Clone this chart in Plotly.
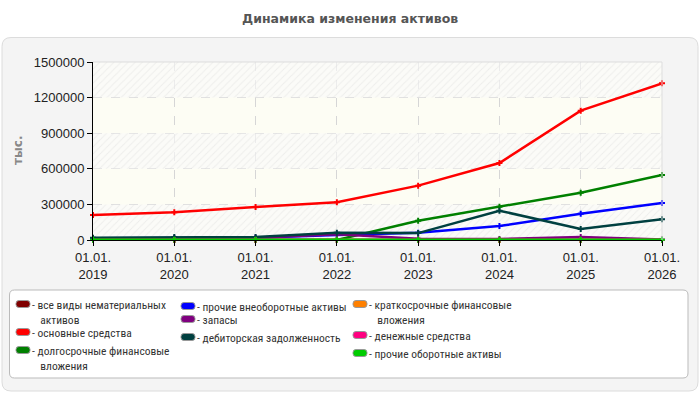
import plotly.graph_objects as go

# ---- data ----
years = [2019, 2020, 2021, 2022, 2023, 2024, 2025, 2026]
year_labels = ["01.01.<br>2019", "01.01.<br>2020", "01.01.<br>2021", "01.01.<br>2022",
               "01.01.<br>2023", "01.01.<br>2024", "01.01.<br>2025", "01.01.<br>2026"]

nematerialnye = [0, 0, 0, 0, 0, 0, 0, 0]
osnovnye = [210000, 233000, 278000, 318000, 458000, 649000, 1090000, 1320000]
dolgosrochnye = [0, 0, 0, 0, 163000, 281000, 399000, 548000]
prochie_vneob = [15000, 15000, 18000, 42000, 62000, 118000, 222000, 312000]
zapasy = [12000, 15000, 18000, 48000, 10000, 8000, 25000, 5000]
debitorskaya = [20000, 25000, 25000, 62000, 58000, 247000, 93000, 174000]
kratkosrochnye = [0, 0, 0, 0, 0, 0, 0, 0]
denezhnye = [1000, 1000, 1000, 1000, 1000, 1000, 1000, 1000]
prochie_obor = [3000, 3000, 3000, 3000, 3000, 3000, 3000, 3000]

series_names = [
    "все виды нематериальных<br>активов",
    "основные средства",
    "долгосрочные финансовые<br>вложения",
    "прочие внеоборотные активы",
    "запасы",
    "дебиторская задолженность",
    "краткосрочные финансовые<br>вложения",
    "денежные средства",
    "прочие оборотные активы",
]
series_values = [nematerialnye, osnovnye, dolgosrochnye, prochie_vneob, zapasy,
                 debitorskaya, kratkosrochnye, denezhnye, prochie_obor]
series_colors = ["#800000", "#ff0000", "#008000", "#0000ff", "#800080",
                 "#004040", "#ff8000", "#ff0080", "#00cc00"]

y_ticks = [0, 300000, 600000, 900000, 1200000, 1500000]

# ---- geometry (pixels) ----
W, H = 700, 400
PL, PR, PT, PB = 93, 662, 62, 240


def px(x):
    return (x - PL) / (PR - PL)


def py(y):
    return (PB - y) / (PB - PT)


def rrect(x0, y0, x1, y1, r):
    X0, X1 = px(x0), px(x1)
    Y0, Y1 = py(y0), py(y1)  # Y0 top, Y1 bottom
    rx = r / (PR - PL)
    ry = r / (PB - PT)
    return (f"M {X0+rx},{Y0} L {X1-rx},{Y0} Q {X1},{Y0} {X1},{Y0-ry} "
            f"L {X1},{Y1+ry} Q {X1},{Y1} {X1-rx},{Y1} L {X0+rx},{Y1} "
            f"Q {X0},{Y1} {X0},{Y1+ry} L {X0},{Y0-ry} Q {X0},{Y0} {X0+rx},{Y0} Z")


fig = go.Figure()

# hatched bands
ymax = y_ticks[-1]
for i in range(0, len(y_ticks) - 1, 2):
    lo, hi = y_ticks[i], y_ticks[i + 1]
    fig.add_trace(go.Scatter(
        x=[years[0], years[-1], years[-1], years[0], years[0]],
        y=[lo, lo, hi, hi, lo], mode="none", fill="toself",
        fillcolor="rgba(250,250,250,0.6)",
        fillpattern=dict(shape="/", fgcolor="#e0e0e0", bgcolor="rgba(250,250,250,0.6)",
                         size=5, solidity=0.2),
        hoverinfo="skip", showlegend=False))

for name, vals, col in zip(series_names, series_values, series_colors):
    fig.add_trace(go.Scatter(
        x=years, y=vals, mode="lines+markers", name=name.replace("<br>", " "),
        line=dict(color=col, width=2.5),
        marker=dict(symbol="cross", size=5, color=col),
        cliponaxis=False, showlegend=False))

shapes = []
# gray panel
shapes.append(dict(type="path", xref="paper", yref="paper", layer="below",
                   path=rrect(2, 37.5, 698, 391, 9),
                   fillcolor="#f4f4f4", line=dict(color="#dcdcdc", width=1)))
# plot background
shapes.append(dict(type="rect", xref="paper", yref="paper", layer="below",
                   x0=0, x1=1, y0=0, y1=1, fillcolor="#fdfdf4", line=dict(width=0)))
# top/right border
shapes.append(dict(type="line", xref="paper", yref="paper", x0=0, x1=1, y0=1, y1=1,
                   line=dict(color="#dddddd", width=1)))
shapes.append(dict(type="line", xref="paper", yref="paper", x0=1, x1=1, y0=0, y1=1,
                   line=dict(color="#dddddd", width=1)))
# legend box
shapes.append(dict(type="path", xref="paper", yref="paper",
                   path=rrect(9.5, 290, 688, 378, 5),
                   fillcolor="#ffffff", line=dict(color="#bbbbbb", width=1)))

annotations = []
legend_font = dict(family="Liberation Sans Narrow, Roboto Condensed, Arial Narrow, Roboto",
                   size=11.5, color="#333333")
# legend entries (column-wise)
swatch_x = [16, 181, 353]
text_x = [31, 196, 368]
entry_y = [[297, 325, 343], [299, 312, 330], [297, 328, 346]]
for idx, (name, col) in enumerate(zip(series_names, series_colors)):
    c, r = idx // 3, idx % 3
    ytop = entry_y[c][r]
    yc = ytop + 7
    shapes.append(dict(type="path", xref="paper", yref="paper",
                       path=rrect(swatch_x[c], yc - 3.5, swatch_x[c] + 14, yc + 3.5, 3),
                       fillcolor=col, line=dict(color="#999999", width=1)))
    text = "- " + name.replace("<br>", "<br>\u2007 ")
    annotations.append(dict(xref="paper", yref="paper", x=px(text_x[c]), y=py(ytop),
                            xanchor="left", yanchor="top", align="left",
                            text=text, showarrow=False, font=legend_font,
                            borderpad=0))

# title
annotations.append(dict(xref="paper", yref="paper", x=px(350), y=py(19),
                        xanchor="center", yanchor="middle", showarrow=False,
                        text="<b>Динамика изменения активов</b>",
                        font=dict(family="DejaVu Sans, Verdana", size=12.5, color="#555555")))
# y-axis title
annotations.append(dict(xref="paper", yref="paper", x=px(18), y=py(151),
                        xanchor="center", yanchor="middle", showarrow=False, textangle=-90,
                        text="<b>тыс.</b>",
                        font=dict(family="DejaVu Sans, Verdana", size=12, color="#888888")))

fig.update_layout(
    width=W, height=H,
    margin=dict(l=PL, r=W - PR, t=PT, b=H - PB, pad=0),
    paper_bgcolor="#ffffff", plot_bgcolor="rgba(0,0,0,0)",
    shapes=shapes, annotations=annotations, showlegend=False,
    xaxis=dict(range=[years[0], years[-1]], tickvals=years, ticktext=year_labels,
               showgrid=True, gridcolor="#d6d6d6", griddash="dash", gridwidth=1,
               showline=True, linecolor="#000000", linewidth=1,
               ticks="outside", ticklen=5, tickcolor="#000000",
               tickfont=dict(family="Liberation Sans, Arial", size=13, color="#222222"),
               zeroline=False, fixedrange=True),
    yaxis=dict(range=[0, ymax], tickvals=y_ticks, ticktext=[str(v) for v in y_ticks],
               showgrid=True, gridcolor="#d6d6d6", griddash="dash", gridwidth=1,
               showline=True, linecolor="#000000", linewidth=1,
               ticks="outside", ticklen=5, tickcolor="#000000",
               tickfont=dict(family="Liberation Sans, Arial", size=13, color="#222222"),
               zeroline=False, fixedrange=True),
)

fig.write_html("out.html")
